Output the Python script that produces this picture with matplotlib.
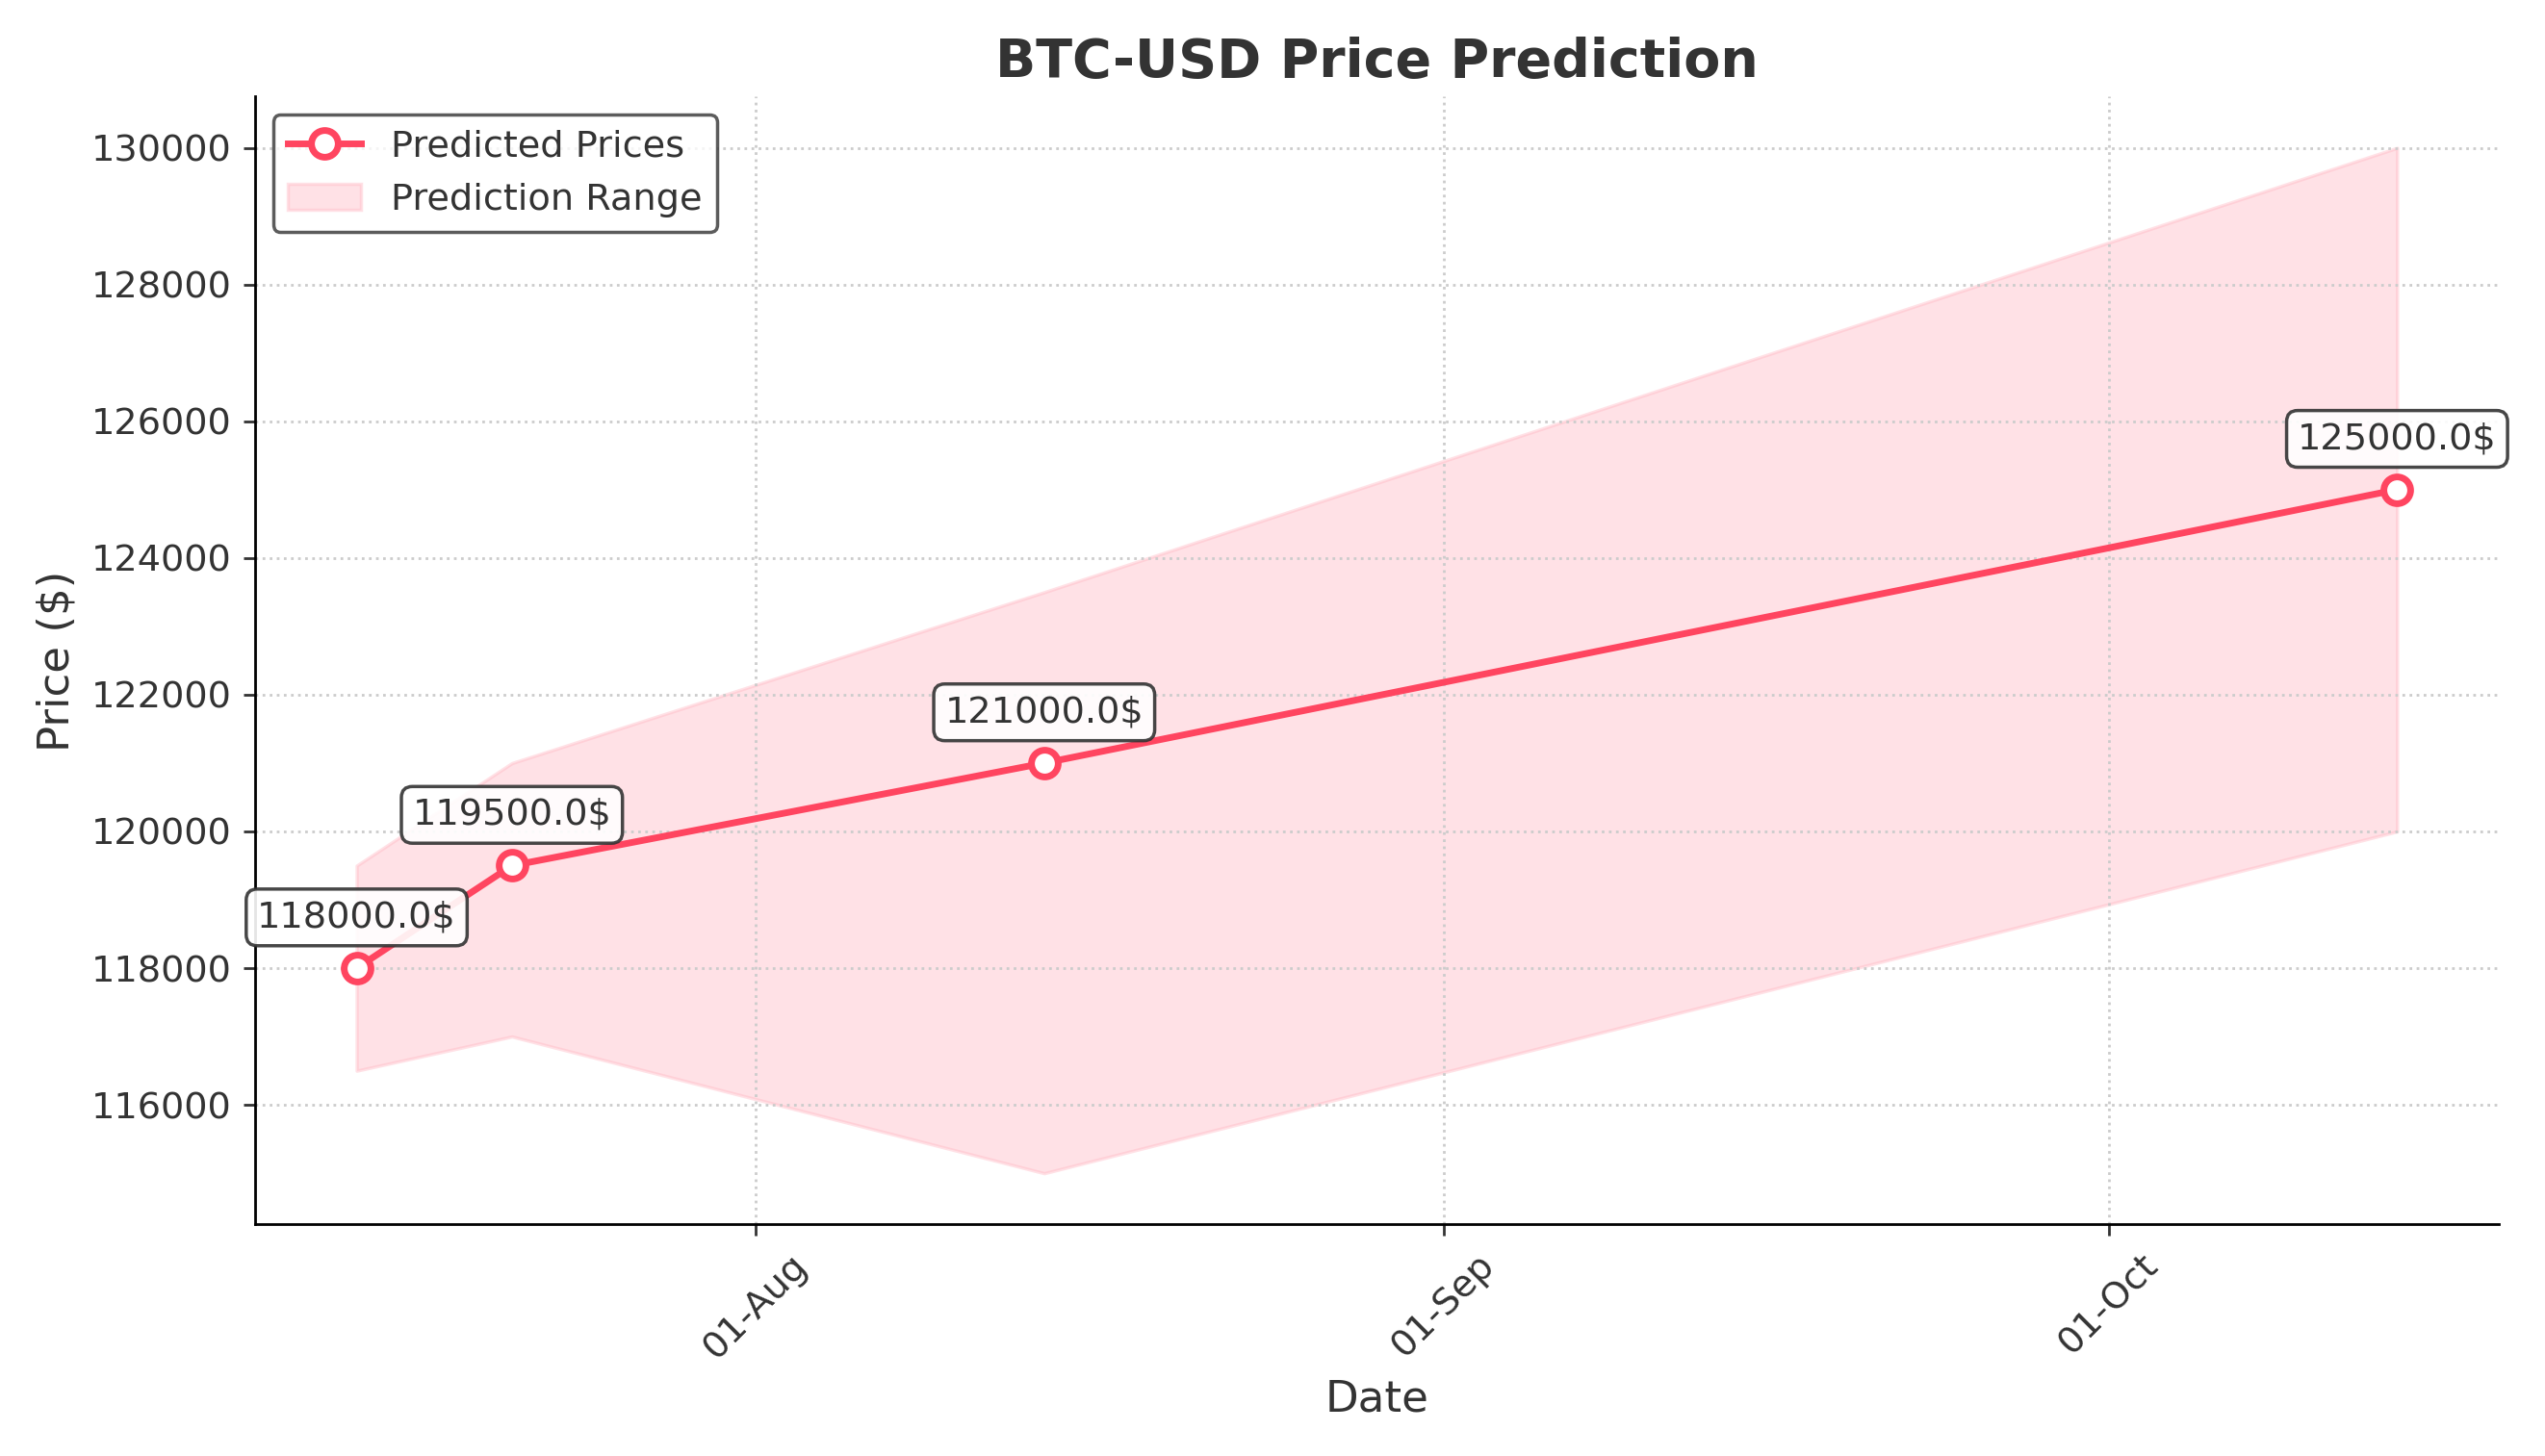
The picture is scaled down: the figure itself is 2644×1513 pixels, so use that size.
import matplotlib
matplotlib.use("Agg")
import matplotlib.pyplot as plt
import matplotlib.dates as mdates
import pandas as pd

dates = pd.to_datetime(["2025-07-14", "2025-07-21", "2025-08-14", "2025-10-14"])
predicted = [118000, 119500, 121000, 125000]
lower = [116500, 117000, 115000, 120000]
upper = [119500, 121000, 123500, 130000]

plt.rcParams["text.color"] = "#333333"
plt.rcParams["axes.labelcolor"] = "#333333"
plt.rcParams["xtick.color"] = "#333333"
plt.rcParams["ytick.color"] = "#333333"

fig, ax = plt.subplots(figsize=(10.576, 6.052), dpi=250)
ax.plot(dates, predicted, color="#ff4560", lw=2, marker="o", markersize=8,
        markerfacecolor="white", markeredgewidth=2, label="Predicted Prices", zorder=3)
ax.fill_between(dates, lower, upper, color="#ffb6c1", alpha=0.4, label="Prediction Range")
for d, p in zip(dates, predicted):
    ax.annotate(f"{float(p)}$", (d, p), xytext=(0, 10), textcoords="offset points",
                ha="center", va="bottom", fontsize=11,
                bbox=dict(boxstyle="round,pad=0.3", fc="white", ec="#333333", alpha=0.9))
ax.set_title("BTC-USD Price Prediction", fontsize=16, fontweight="bold")
ax.set_xlabel("Date", fontsize=13)
ax.set_ylabel("Price ($)", fontsize=13)
ax.xaxis.set_major_locator(mdates.MonthLocator())
ax.xaxis.set_major_formatter(mdates.DateFormatter("%d-%b"))
ax.tick_params(labelsize=11)
plt.setp(ax.get_xticklabels(), rotation=45)
ax.grid(True, linestyle=":", color="#cccccc")
ax.spines["top"].set_visible(False)
ax.spines["right"].set_visible(False)
ax.legend(loc="upper left", fontsize=11, edgecolor="#333333")
fig.tight_layout()
fig.savefig("out.png")
